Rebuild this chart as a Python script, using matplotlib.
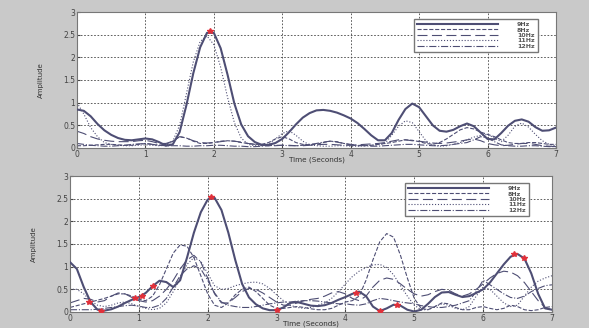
import numpy as np
import matplotlib.pyplot as plt

# time base, 0.1 s steps from 0 to 7
t = np.linspace(0, 7, 71)
labels = ['9Hz', '8Hz', '10Hz', '11Hz', '12Hz']

# ---- upper panel ----
top_9 = [0.85, 0.82, 0.70, 0.53, 0.39, 0.29, 0.22, 0.18, 0.17, 0.19,
         0.21, 0.19, 0.13, 0.05, 0.08, 0.35, 0.95, 1.65, 2.22, 2.54,
         2.54, 2.20, 1.62, 0.98, 0.52, 0.26, 0.13, 0.07, 0.07, 0.11,
         0.20, 0.35, 0.52, 0.67, 0.77, 0.83, 0.84, 0.82, 0.78, 0.72,
         0.65, 0.55, 0.42, 0.28, 0.17, 0.17, 0.33, 0.62, 0.86, 0.98,
         0.90, 0.70, 0.50, 0.38, 0.36, 0.40, 0.48, 0.54, 0.48, 0.34,
         0.20, 0.19, 0.33, 0.49, 0.60, 0.63, 0.58, 0.46, 0.38, 0.39,
         0.45]
top_8 = [0.05, 0.05, 0.06, 0.07, 0.08, 0.08, 0.07, 0.06, 0.06, 0.08,
         0.10, 0.08, 0.06, 0.08, 0.15, 0.25, 0.22, 0.15, 0.10, 0.10,
         0.12, 0.15, 0.16, 0.15, 0.12, 0.10, 0.08, 0.08, 0.12, 0.20,
         0.25, 0.20, 0.12, 0.08, 0.07, 0.08, 0.12, 0.15, 0.14, 0.10,
         0.07, 0.05, 0.05, 0.06, 0.08, 0.10, 0.12, 0.15, 0.18, 0.17,
         0.14, 0.10, 0.08, 0.12, 0.20, 0.30, 0.40, 0.45, 0.42, 0.35,
         0.30, 0.25, 0.18, 0.12, 0.10, 0.10, 0.12, 0.12, 0.10, 0.08,
         0.08]
top_10 = [0.37, 0.32, 0.25, 0.20, 0.17, 0.15, 0.14, 0.14, 0.14, 0.16,
          0.17, 0.14, 0.10, 0.10, 0.15, 0.25, 0.22, 0.16, 0.12, 0.11,
          0.12, 0.14, 0.16, 0.15, 0.13, 0.10, 0.08, 0.06, 0.05, 0.05,
          0.06, 0.06, 0.05, 0.05, 0.06, 0.07, 0.08, 0.08, 0.07, 0.06,
          0.06, 0.07, 0.08, 0.09, 0.10, 0.12, 0.15, 0.18, 0.18, 0.16,
          0.15, 0.13, 0.11, 0.10, 0.11, 0.13, 0.15, 0.18, 0.20, 0.16,
          0.10, 0.07, 0.05, 0.06, 0.08, 0.10, 0.10, 0.08, 0.05, 0.04,
          0.03]
top_11 = [1.00, 0.75, 0.45, 0.25, 0.12, 0.08, 0.06, 0.05, 0.05, 0.06,
          0.07, 0.06, 0.05, 0.06, 0.15, 0.50, 1.20, 1.90, 2.35, 2.47,
          2.28, 1.78, 1.12, 0.56, 0.22, 0.08, 0.05, 0.05, 0.08, 0.20,
          0.32, 0.38, 0.28, 0.15, 0.07, 0.05, 0.04, 0.04, 0.05, 0.05,
          0.04, 0.04, 0.05, 0.06, 0.07, 0.10, 0.28, 0.48, 0.60, 0.56,
          0.36, 0.16, 0.06, 0.04, 0.05, 0.08, 0.12, 0.18, 0.24, 0.28,
          0.30, 0.22, 0.14, 0.28, 0.48, 0.55, 0.46, 0.30, 0.16, 0.08,
          0.05]
top_12 = [0.10, 0.08, 0.06, 0.05, 0.04, 0.04, 0.05, 0.06, 0.08, 0.09,
          0.10, 0.08, 0.06, 0.05, 0.05, 0.05, 0.04, 0.04, 0.05, 0.05,
          0.06, 0.06, 0.05, 0.04, 0.04, 0.03, 0.03, 0.04, 0.05, 0.06,
          0.06, 0.05, 0.05, 0.06, 0.08, 0.10, 0.13, 0.15, 0.13, 0.10,
          0.08, 0.06, 0.05, 0.04, 0.04, 0.05, 0.06, 0.07, 0.08, 0.08,
          0.07, 0.06, 0.05, 0.05, 0.06, 0.08, 0.10, 0.12, 0.18, 0.25,
          0.22, 0.14, 0.07, 0.05, 0.04, 0.04, 0.05, 0.05, 0.04, 0.03,
          0.03]
top_peak_t = [1.95]
top_peak_v = [2.57]

# ---- lower panel ----
bot_9 = [1.10, 0.95, 0.55, 0.22, 0.05, 0.03, 0.06, 0.12, 0.20, 0.27,
         0.33, 0.42, 0.57, 0.69, 0.66, 0.55, 0.70, 1.20, 1.75, 2.20,
         2.48, 2.52, 2.25, 1.75, 1.15, 0.62, 0.32, 0.17, 0.08, 0.04,
         0.04, 0.10, 0.20, 0.22, 0.18, 0.14, 0.13, 0.15, 0.20, 0.27,
         0.33, 0.40, 0.45, 0.35, 0.12, 0.02, 0.08, 0.16, 0.14, 0.05,
         0.01, 0.05, 0.18, 0.33, 0.43, 0.44, 0.38, 0.33, 0.35, 0.42,
         0.50, 0.65, 0.85, 1.05, 1.22, 1.28, 1.18, 0.85, 0.40, 0.08,
         0.05]
bot_8 = [0.10, 0.14, 0.18, 0.22, 0.26, 0.30, 0.35, 0.40, 0.40, 0.35,
         0.28, 0.25, 0.35, 0.60, 0.95, 1.30, 1.48, 1.45, 1.20, 0.80,
         0.40, 0.15, 0.10, 0.20, 0.38, 0.50, 0.55, 0.45, 0.30, 0.15,
         0.08, 0.08, 0.10, 0.12, 0.10, 0.07, 0.05, 0.05, 0.08, 0.15,
         0.22, 0.25, 0.35, 0.70, 1.15, 1.55, 1.73, 1.65, 1.25, 0.75,
         0.30, 0.08, 0.05, 0.12, 0.20, 0.18, 0.10, 0.05, 0.05, 0.10,
         0.12, 0.08, 0.05, 0.08, 0.15, 0.12, 0.05, 0.03, 0.05, 0.10,
         0.12]
bot_10 = [0.20, 0.25, 0.30, 0.28, 0.22, 0.25, 0.35, 0.42, 0.40, 0.32,
          0.25, 0.22, 0.25, 0.35, 0.50, 0.70, 0.95, 1.15, 1.25, 1.10,
          0.75, 0.40, 0.20, 0.20, 0.32, 0.45, 0.52, 0.50, 0.42, 0.32,
          0.22, 0.15, 0.15, 0.20, 0.25, 0.28, 0.30, 0.35, 0.42, 0.45,
          0.40, 0.30, 0.25, 0.35, 0.55, 0.70, 0.75, 0.72, 0.62, 0.50,
          0.40, 0.35, 0.38, 0.45, 0.50, 0.48, 0.40, 0.35, 0.40, 0.50,
          0.62, 0.75, 0.85, 0.90, 0.88, 0.80, 0.65, 0.45, 0.25, 0.10,
          0.05]
bot_11 = [0.50, 0.50, 0.40, 0.25, 0.15, 0.12, 0.15, 0.20, 0.22, 0.18,
          0.12, 0.08, 0.05, 0.08, 0.20, 0.45, 0.75, 1.05, 1.20, 1.12,
          0.85, 0.58, 0.50, 0.52, 0.58, 0.62, 0.65, 0.66, 0.62, 0.52,
          0.38, 0.25, 0.15, 0.10, 0.08, 0.10, 0.15, 0.20, 0.30, 0.45,
          0.62, 0.78, 0.90, 0.98, 1.04, 1.05, 0.98, 0.82, 0.58, 0.35,
          0.15, 0.05, 0.05, 0.12, 0.18, 0.15, 0.08, 0.05, 0.12, 0.35,
          0.55, 0.50, 0.35, 0.20, 0.12, 0.15, 0.35, 0.55, 0.68, 0.75,
          0.80]
bot_12 = [0.05, 0.05, 0.05, 0.05, 0.06, 0.08, 0.10, 0.12, 0.14, 0.15,
          0.13, 0.10, 0.10, 0.15, 0.30, 0.55, 0.80, 0.95, 1.02, 0.95,
          0.70, 0.42, 0.22, 0.15, 0.12, 0.10, 0.10, 0.12, 0.15, 0.18,
          0.20, 0.22, 0.22, 0.24, 0.25, 0.25, 0.24, 0.22, 0.20, 0.18,
          0.18, 0.16, 0.15, 0.18, 0.25, 0.30, 0.28, 0.25, 0.22, 0.20,
          0.18, 0.14, 0.12, 0.10, 0.10, 0.12, 0.15, 0.20, 0.25, 0.45,
          0.70, 0.60, 0.50, 0.40, 0.32, 0.30, 0.35, 0.45, 0.52, 0.58,
          0.60]
bot_peak_t = [0.28, 0.45, 0.95, 1.05, 1.2, 2.05, 3.0, 4.15, 4.5, 4.75, 6.45, 6.6]
bot_peak_v = [0.22, 0.03, 0.30, 0.35, 0.57, 2.53, 0.04, 0.43, 0.02, 0.16, 1.27, 1.20]

line_col = '#4e4e74'
styles = ['-', '--', (0, (9, 4)), ':', '-.']

fig = plt.figure(figsize=(5.89, 3.28), dpi=100, facecolor='#c9c9c9')
ax1 = fig.add_axes([0.1307, 0.5488, 0.8132, 0.4146])
ax2 = fig.add_axes([0.1188, 0.0488, 0.8183, 0.4146])


def draw(ax, series, pk_t, pk_v, leg_anchor):
    for i, (s, lab) in enumerate(zip(series, labels)):
        lw = 1.5 if i == 0 else 0.8
        ax.plot(t, s, color=line_col, ls=styles[i], lw=lw, label=lab,
                zorder=3 if i == 0 else 2)
    ax.plot(pk_t, pk_v, ls='none', marker='*', ms=4, color='#e0303a', zorder=4)
    ax.set_xlim(0, 7)
    ax.set_ylim(0, 3)
    ax.set_xticks(range(8))
    ax.set_yticks([0, 0.5, 1, 1.5, 2, 2.5, 3])
    ax.set_yticklabels(['0', '0.5', '1', '1.5', '2', '2.5', '3'])
    ax.grid(True, color='#444444', ls=(0, (2, 2)), lw=0.6)
    ax.set_facecolor('white')
    ax.tick_params(direction='in', labelsize=5.5, length=2, pad=1.2,
                   colors='#444444')
    for sp in ax.spines.values():
        sp.set_color('#777777')
        sp.set_linewidth(0.8)
    ax.set_xlabel('Time (Seconds)', fontsize=5.2, labelpad=-1.5, color='#333333')
    ax.set_ylabel('Amplitude', fontsize=5, labelpad=14, color='#333333')
    leg = ax.legend(loc='upper right', bbox_to_anchor=leg_anchor,
                    prop={'size': 4.5, 'weight': 'bold'},
                    labelspacing=0.0, handlelength=13, handletextpad=3,
                    borderpad=0.5, borderaxespad=0, fancybox=False,
                    framealpha=1, edgecolor='#777777')
    for txt in leg.get_texts():
        txt.set_color('#555555')


draw(ax1, [top_9, top_8, top_10, top_11, top_12], top_peak_t, top_peak_v,
     (0.962, 0.95))
draw(ax2, [bot_9, bot_8, bot_10, bot_11, bot_12], bot_peak_t, bot_peak_v,
     (0.952, 0.95))

fig.savefig('out.png', dpi=100, facecolor=fig.get_facecolor())
